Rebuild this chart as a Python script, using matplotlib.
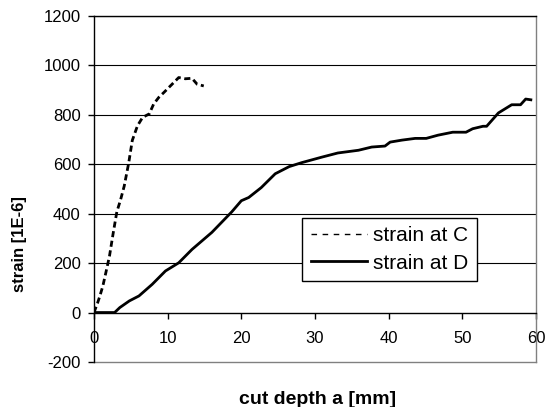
import matplotlib.pyplot as plt
from matplotlib.lines import Line2D

plt.rcParams['font.family'] = ['Liberation Sans', 'DejaVu Sans']
plt.rcParams['axes.unicode_minus'] = False

# strain at C (dashed)
c_x = [0, 0.1, 0.5, 0.8, 1.2, 1.6, 2.1, 2.6, 3.1, 3.6, 4.1, 4.7, 5.2, 5.9, 6.6,
       7.5, 8.1, 8.8, 9.5, 10.0, 10.6, 11.5, 12.4, 13.3, 14.0, 14.9]
c_y = [0, 8, 40, 67, 107, 160, 228, 320, 407, 455, 511, 603, 696, 755, 789,
       803, 843, 870, 890, 905, 923, 950, 945, 947, 923, 916]

# strain at D (solid)
d_x = [0, 1.5, 2.8, 3.5, 4.8, 6.1, 7.9, 9.7, 11.5, 13.3, 16.0, 18.7, 20.0, 21.0,
       22.7, 24.6, 26.5, 28.2, 30.9, 33.1, 35.9, 37.7, 39.5, 40.2, 41.8, 43.6,
       45.1, 46.7, 48.7, 50.5, 51.4, 52.8, 53.3, 54.9, 56.7, 57.9, 58.6, 59.3]
d_y = [0, 0, 0, 20, 47, 67, 114, 168, 201, 255, 324, 407, 452, 465,
       505, 561, 590, 606, 628, 645, 656, 669, 673, 689, 697, 704,
       704, 717, 729, 729, 743, 753, 753, 807, 840, 840, 863, 860]

x_ticks = [0, 10, 20, 30, 40, 50, 60]
y_ticks = [-200, 0, 200, 400, 600, 800, 1000, 1200]

fig = plt.figure(figsize=(5.47, 4.07), dpi=100)
ax = fig.add_axes([94 / 547, 1 - 362 / 407, 442 / 547, 346.3 / 407])

for yy in y_ticks[2:]:
    ax.axhline(yy, color='black', lw=0.8, zorder=1)

ax.plot(c_x, c_y, color='black', lw=2, linestyle=(0, (2.2, 1.3)), label='strain at C', zorder=3)
ax.plot(d_x, d_y, color='black', lw=2, label='strain at D', zorder=3)

ax.set_xlim(0, 60)
ax.set_ylim(-200, 1200)
ax.set_xticks(x_ticks)
ax.set_yticks(y_ticks)

ax.spines['bottom'].set_position(('data', 0))
ax.spines['bottom'].set_linewidth(1)
ax.spines['left'].set_linewidth(1)
ax.spines['top'].set_color('black')
ax.spines['top'].set_linewidth(1)
ax.spines['right'].set_color('gray')
ax.spines['right'].set_linewidth(1)
ax.add_line(Line2D([0, 1], [0, 0], transform=ax.transAxes, color='gray', lw=1, clip_on=False))

ax.tick_params(axis='x', direction='out', length=4, width=1, pad=9, labelsize=12)
ax.tick_params(axis='y', direction='out', length=4.5, width=1, pad=5, labelsize=12)

ax.set_xlabel('cut depth a [mm]', fontsize=14, fontweight='bold')
ax.set_ylabel('strain [1E-6]', fontsize=12, fontweight='bold')
ax.xaxis.set_label_coords(0.505, -0.084)
ax.yaxis.set_label_coords(-0.152, 0.341)

leg = ax.legend(loc='upper left', bbox_to_anchor=(0.471, 0.416), borderaxespad=0,
                fontsize=15, fancybox=False, framealpha=1, edgecolor='black',
                handlelength=2.7, handletextpad=0.3, labelspacing=0.4, borderpad=0.4)
leg.get_frame().set_linewidth(1)
leg.get_lines()[0].set_linewidth(1)
leg.get_lines()[0].set_linestyle((0, (4, 4)))

fig.savefig('out.png', dpi=100)
